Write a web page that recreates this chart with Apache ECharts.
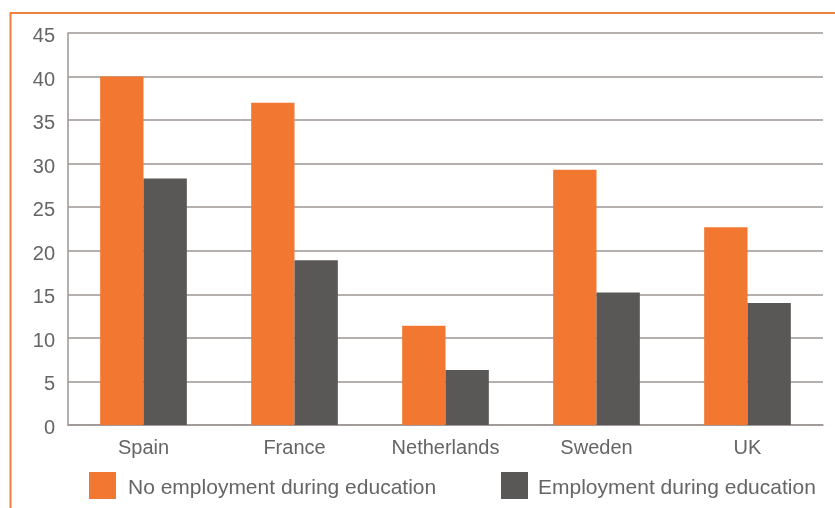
<!DOCTYPE html>
<html>
<head>
<meta charset="utf-8">
<script src="https://cdn.jsdelivr.net/npm/echarts@6/dist/echarts.min.js"></script>
<style>html,body{margin:0;padding:0;background:#fff;}#c{width:835px;height:508px;}</style>
</head>
<body>
<div id="c"></div>
<script>
var categories = ['Spain', 'France', 'Netherlands', 'Sweden', 'UK'];
var noEmployment = [40, 37, 11.4, 29.3, 22.7];
var employment = [28.3, 18.9, 6.3, 15.2, 14.0];
var seriesNames = ['No employment during education', 'Employment during education'];

var FONT = '"Liberation Sans", Arial, sans-serif';
var TXT = '#666464';
var chart = echarts.init(document.getElementById('c'), null, {renderer: 'canvas'});
function legendCfg(name, left, padLeft) {
  return {
    data: [name], left: left, top: 472, padding: 0, itemWidth: 27, itemHeight: 27, icon: 'rect',
    formatter: '{a|{name}}',
    textStyle: {
      rich: {a: {fontFamily: FONT, fontSize: 21, color: TXT, padding: [6, 0, 0, padLeft]}}
    }
  };
}
chart.setOption({
  animation: false,
  backgroundColor: '#fff',
  graphic: [
    {type: 'line', shape: {x1: 10.5, y1: 13, x2: 835, y2: 13}, style: {stroke: '#F08040', lineWidth: 2}},
    {type: 'line', shape: {x1: 10.5, y1: 12, x2: 10.5, y2: 508}, style: {stroke: '#F08040', lineWidth: 2}}
  ],
  grid: {left: 68, right: 12, top: 33, bottom: 83, containLabel: false},
  legend: [legendCfg(seriesNames[0], 89, 7), legendCfg(seriesNames[1], 501, 5)],
  xAxis: {
    type: 'category', data: categories,
    axisLine: {show: true, lineStyle: {color: '#9c9592', width: 1.5}},
    axisTick: {show: false},
    axisLabel: {fontFamily: FONT, fontSize: 20, color: TXT, margin: 13}
  },
  yAxis: {
    type: 'value', min: 0, max: 45, interval: 5,
    axisLine: {show: true, lineStyle: {color: '#9c9592', width: 1.5}},
    axisTick: {show: false},
    axisLabel: {
      margin: 13,
      formatter: '{a|{value}}',
      rich: {a: {fontFamily: FONT, fontSize: 20, color: TXT, padding: [7, 0, 0, 0]}}
    },
    splitLine: {lineStyle: {color: '#9c9592', width: 1.5}}
  },
  series: [
    {name: seriesNames[0], type: 'bar', data: noEmployment, barGap: 0, barCategoryGap: '42.6%',
     itemStyle: {color: '#F27832'}},
    {name: seriesNames[1], type: 'bar', data: employment, barGap: 0, barCategoryGap: '42.6%',
     itemStyle: {color: '#5A5856'}}
  ]
});
</script>
</body>
</html>
